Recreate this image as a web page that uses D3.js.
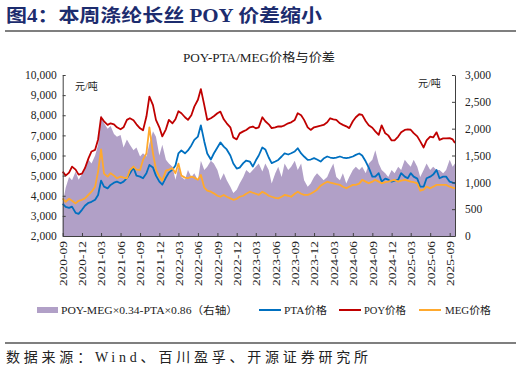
<!DOCTYPE html>
<html><head><meta charset="utf-8">
<script src="https://cdn.jsdelivr.net/npm/d3@7"></script>
<style>html,body{margin:0;padding:0;background:#fff;}svg{display:block;}</style>
</head><body>
<svg id="chart" width="521" height="373"></svg>
<script>
// ---------- DATA ----------
const tickLabels = ["2020-09","2020-12","2021-03","2021-06","2021-09","2021-12","2022-03","2022-06","2022-09","2022-12","2023-03","2023-06","2023-09","2023-12","2024-03","2024-06","2024-09","2024-12","2025-03","2025-06","2025-09"];
const leftTicks = [2000,3000,4000,5000,6000,7000,8000,9000,10000];
const rightTicks = [0,500,1000,1500,2000,2500,3000];
// sample dates: 1st and 15th of each month 2020-09 .. 2025-09, plus last trading day
const dates = [];
for (let y = 2020; y <= 2025; y++) {
  for (let m = 1; m <= 12; m++) {
    if (y === 2020 && m < 9) continue;
    if (y === 2025 && m > 9) continue;
    dates.push(y + "-" + String(m).padStart(2,"0") + "-01");
    dates.push(y + "-" + String(m).padStart(2,"0") + "-15");
  }
}
dates.push("2025-09-26");

const poy = [5200,5000,5150,5450,5300,5050,5100,5370,5870,6200,6280,6800,7900,7700,7520,7600,7550,7400,7300,7400,
7770,7850,7750,7550,7350,7250,7935,8930,8500,7770,7400,6950,7300,7770,7600,7800,8200,8100,7900,7770,
8000,8430,8770,9300,8500,7770,7850,7950,8100,8180,7800,7600,7400,6900,6800,7100,7200,7270,7400,7440,
7350,7400,7900,7700,7550,7360,7400,7450,7440,7500,7600,7650,7770,8100,8000,7770,7400,7270,7400,7440,
7480,7520,7650,7850,7800,7770,7600,7520,7450,7360,7700,7900,8050,8020,7700,7500,7380,7200,7025,7500,
7100,7000,6750,6750,6940,7150,7270,7300,7280,7110,6950,6700,6400,6750,6940,6900,7150,6780,6850,6850,
6860,6800,6620];
const pta = [3600,3450,3400,3460,3150,3100,3300,3500,3650,3700,3800,4040,4750,4450,4370,4540,4650,4700,4620,4700,
4870,5100,5400,5000,4950,4870,5120,5530,5400,5000,4700,4550,4900,5150,5300,5500,6100,6250,6110,6250,
6500,6780,6940,7500,6700,6100,5800,6100,6400,6650,6440,6300,6000,5600,5350,5400,5620,5750,5700,5450,
5750,6000,6400,6300,5900,5620,5700,5780,5950,6110,6050,6110,6200,6360,6100,5950,5780,5800,5870,5800,
5700,5850,5950,5900,5870,5900,5950,5900,5870,5900,5950,6030,6100,6000,5700,5400,4950,4950,5120,4700,
4850,4800,4700,4750,4800,5120,4950,4870,5120,4950,4850,4450,4450,4870,4950,5050,5280,4870,4950,4950,
4700,4650,4620];
const meg = [3870,3700,3850,3750,3620,3750,3800,3870,4050,4200,4450,5200,6300,5100,4950,5120,5000,4870,4950,4900,
4870,5280,5450,5300,5280,5780,6110,7400,6110,5300,4950,4750,5250,5300,5370,5120,5600,5000,4900,4870,
4950,4900,4790,5030,4400,4250,4200,4120,4000,3950,4040,3950,3870,3800,3850,3950,4000,4100,4200,4150,
4100,4040,4200,4120,4000,3950,3900,3870,3950,4040,4000,3950,4100,4200,4100,4040,4040,4100,4200,4300,
4500,4600,4700,4650,4620,4580,4540,4450,4370,4450,4540,4540,4600,4790,4700,4620,4700,4790,4700,4620,
4680,4700,4750,4790,4700,4750,4790,4750,4700,4680,4620,4250,4300,4450,4370,4450,4540,4540,4540,4540,
4450,4400,4370];
const spread = [600,900,1100,1040,1200,1050,1150,1290,1420,1350,1500,1700,2250,2100,2000,2050,1900,1850,1880,1650,
1800,1700,1600,1650,1480,1540,1480,1720,1950,1850,1500,1700,1420,1350,1290,1050,1290,1100,1050,1230,
1100,1170,1040,1400,1230,1290,1400,1350,1230,1040,1170,1040,920,800,860,980,1100,1230,1170,1230,
1290,1350,1200,1350,1230,980,1170,1290,1100,1350,1230,1290,1400,1230,1350,1040,920,980,1100,1170,
1100,1040,1100,1230,1350,1100,1040,1170,980,1100,1230,1290,1230,1290,1170,1350,1420,1600,1350,1230,
1170,1100,1230,1170,1290,1230,1420,1350,1290,1420,1290,1100,1230,1350,1230,1290,1230,1230,1170,1230,
1420,1290,1350];

const seriesNames = ["POY-MEG×0.34-PTA×0.86（右轴）","PTA价格","POY价格","MEG价格"];
const colors = {spread:"#b1a0c7", pta:"#0070c0", poy:"#c00000", meg:"#ffa92e"};

// ---------- DRAW ----------
const svg = d3.select("#chart");
const serif = "'Liberation Serif','Times New Roman','Noto Sans CJK SC',serif";
const cjk = "'Liberation Serif','Noto Sans CJK SC',sans-serif";
const parse = d3.timeParse("%Y-%m-%d");
const pm = d3.timeParse("%Y-%m");
const D = dates.map(parse);

const L = 62.7, R = 455, T = 75, B = 236;
const x = d3.scaleTime().domain([D[0], D[D.length-1]]).range([L, R]);
const yL = d3.scaleLinear().domain([2000,10000]).range([B, T]);
const yR = d3.scaleLinear().domain([0,3000]).range([B, T]);

// Title
svg.append("text").attr("x",6).attr("y",22).attr("font-family",cjk).attr("font-weight","bold")
  .attr("font-size",18).attr("fill","#1c2c6e").attr("textLength",316).attr("lengthAdjust","spacingAndGlyphs")
  .text("图4：本周涤纶长丝 POY 价差缩小");
svg.append("line").attr("x1",5).attr("x2",516).attr("y1",31).attr("y2",31).attr("stroke","#555").attr("stroke-width",1.3);

svg.append("text").attr("x",183).attr("y",62).attr("font-family",cjk).attr("font-size",12.5).attr("fill","#222")
  .attr("textLength",152).attr("lengthAdjust","spacingAndGlyphs").text("POY-PTA/MEG价格与价差");

// Area (right axis)
const area = d3.area().x((d,i)=>x(D[i])).y0(yR(0)).y1(d=>yR(d));
svg.append("path").datum(spread).attr("d",area).attr("fill",colors.spread);

// Lines
const line = d3.line().x((d,i)=>x(D[i])).y(d=>yL(d));
[["pta",pta],["meg",meg],["poy",poy]].forEach(([k,arr])=>{
  svg.append("path").datum(arr).attr("d",line).attr("fill","none").attr("stroke",colors[k])
    .attr("stroke-width",1.8).attr("stroke-linejoin","round");
});

// Axes
const axisColor = "#404040";
const gL = svg.append("g").attr("transform",`translate(${L},0)`)
  .call(d3.axisLeft(yL).tickValues(leftTicks).tickFormat(d3.format(",")).tickSizeInner(-3).tickSizeOuter(0).tickPadding(6));
const gR = svg.append("g").attr("transform",`translate(${R},0)`)
  .call(d3.axisRight(yR).tickValues(rightTicks).tickFormat(d3.format(",")).tickSizeInner(-3).tickSizeOuter(0).tickPadding(10));
const gB = svg.append("g").attr("transform",`translate(0,${B})`)
  .call(d3.axisBottom(x).tickValues(tickLabels.map(pm)).tickFormat(d3.timeFormat("%Y-%m")).tickSizeInner(-3).tickSizeOuter(0));
[gL,gR,gB].forEach(g=>{
  g.select(".domain").attr("stroke",axisColor);
  g.selectAll(".tick line").attr("stroke",axisColor);
  g.selectAll("text").attr("font-family",serif).attr("font-size",11.5).attr("fill","#222");
});
gB.selectAll("text").attr("transform","rotate(-90)").attr("text-anchor","end").attr("dy","0.35em")
  .attr("x",-5).attr("y",0).attr("font-size",11).attr("textLength",45).attr("lengthAdjust","spacingAndGlyphs");

// Units
svg.append("text").attr("x",75).attr("y",90).attr("font-family",cjk).attr("font-size",10).attr("fill","#222").text("元/吨");
svg.append("text").attr("x",418).attr("y",87).attr("font-family",cjk).attr("font-size",10).attr("fill","#222").text("元/吨");

// Legend
const ly = 310;
svg.append("rect").attr("x",37).attr("y",ly-3).attr("width",21).attr("height",6).attr("fill",colors.spread);
const lt = (xx,txt,len)=>svg.append("text").attr("x",xx).attr("y",ly+4).attr("font-family",cjk).attr("font-size",10.5)
  .attr("fill","#222").attr("textLength",len).attr("lengthAdjust","spacingAndGlyphs").text(txt);
lt(61,seriesNames[0],177);
[[259,colors.pta,284,seriesNames[1],43],[339,colors.poy,364,seriesNames[2],42],[419,colors.meg,445,seriesNames[3],46]]
  .forEach(([x1,c,tx,t,len])=>{
    svg.append("line").attr("x1",x1).attr("x2",x1+22).attr("y1",ly).attr("y2",ly).attr("stroke",c).attr("stroke-width",2);
    lt(tx,t,len);
  });

// Source
svg.append("line").attr("x1",5).attr("x2",516).attr("y1",343).attr("y2",343).attr("stroke","#555").attr("stroke-width",1.3);
svg.append("text").attr("x",6).attr("y",362).attr("font-family",cjk).attr("font-size",14).attr("fill","#222")
  .attr("textLength",362).attr("lengthAdjust","spacing").text("数据来源：Wind、百川盈孚、开源证券研究所");
</script>
</body></html>
